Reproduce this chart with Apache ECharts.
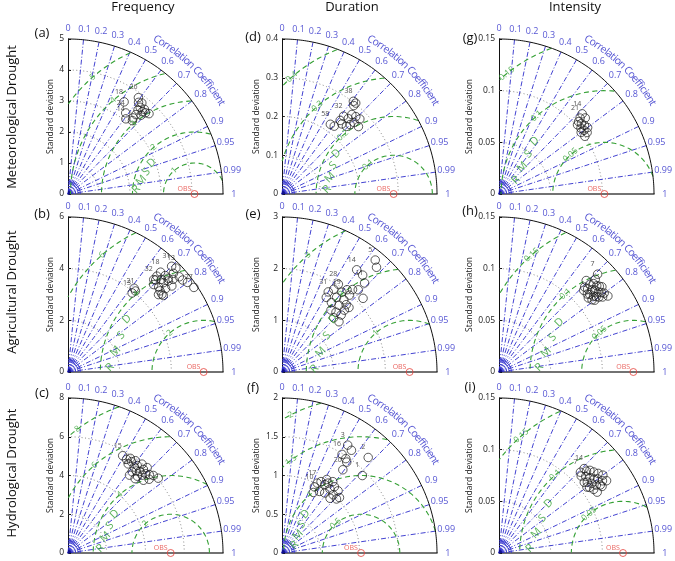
<!DOCTYPE html>
<html><head><meta charset="utf-8">
<script src="https://cdn.jsdelivr.net/npm/echarts@6/dist/echarts.min.js"></script>
<style>html,body{margin:0;padding:0;background:#fff}#c{width:675px;height:561px}</style>
</head><body><div id="c"></div><script>
// ---------------- data ----------------
const colTitles = ['Frequency', 'Duration', 'Intensity'];
const rowTitles = ['Meteorological Drought', 'Agricultural Drought', 'Hydrological Drought'];
const panelTags = ['(a)', '(b)', '(c)', '(d)', '(e)', '(f)', '(g)', '(h)', '(i)'];
const corrTicks = [0, 0.1, 0.2, 0.3, 0.4, 0.5, 0.6, 0.7, 0.8, 0.9, 0.95, 0.99, 1];
const corrRays = [0.1, 0.2, 0.3, 0.4, 0.5, 0.6, 0.7, 0.8, 0.9, 0.95, 0.99];
const axisMax = [5, 6, 8, 0.4, 3, 2, 0.15, 0.15, 0.15];
const axisStep = [1, 2, 2, 0.1, 1, 0.5, 0.05, 0.05, 0.05];
const obsStd = [4.08, 5.25, 5.3, 0.288, 2.47, 1.02, 0.102, 0.13, 0.12];
const rmsdLevels = [[1,2,3,4,5],[2,4,6],[2,4,6,8],[0.1,0.2,0.3,0.4],[1,2,3],[0.5,1,1.5,2],[0.05,0.1,0.15],[0.05,0.1,0.15],[0.05,0.1,0.15]];

const stdA = [3.48,3.06,3.21,3.23,3.85,3.73,3.64,3.53,3.58,3.68,3.68,3.37,3.47,3.62,3.15,3.78];
const corrA = [0.52,0.61,0.58,0.65,0.59,0.61,0.64,0.64,0.67,0.67,0.71,0.65,0.68,0.69,0.66,0.63];
const labA = ['18','14','24','','26','','','','','','','','','','',''];

const stdB = [3.94,4.08,4.13,4.74,4.92,4.81,5.09,5.06,4.75,4.72,4.97,5.24,5.22,5.06,5.30,5.31,5.42,5.73,5.80,5.67,5.69,5.78,5.87,4.88,5.27,5.59,4.73,4.61];
const corrB = [0.63,0.64,0.62,0.70,0.69,0.73,0.71,0.73,0.75,0.77,0.76,0.74,0.77,0.68,0.71,0.73,0.75,0.70,0.72,0.76,0.78,0.80,0.83,0.68,0.68,0.73,0.78,0.76];
const labB = ['13','21','','','','','','','','','','','','','','','','31','13','','','','27','32','18','','',''];

const stdC = [5.76,5.70,5.85,5.55,5.74,5.90,5.60,5.76,5.97,5.34,5.51,5.60,5.81,6.01,5.34,5.55,5.73,5.83,5.95,6.05,5.41,5.66,5.12,5.17];
const corrC = [0.49,0.53,0.55,0.56,0.57,0.59,0.61,0.62,0.64,0.62,0.64,0.66,0.67,0.68,0.67,0.69,0.70,0.72,0.74,0.77,0.72,0.74,0.62,0.67];
const labC = ['15','','','','','','','','','21','','','','','','','','','','','','','',''];

const stdD = [0.302,0.294,0.302,0.242,0.256,0.259,0.273,0.276,0.279,0.251,0.262,0.263,0.241,0.238,0.219,0.221];
const corrD = [0.61,0.63,0.63,0.62,0.62,0.66,0.66,0.69,0.72,0.70,0.71,0.75,0.69,0.65,0.57,0.61];
const labD = ['38','','','','32','','','','','','','','','','58',''];

const stdE = [2.82,2.73,2.45,2.44,2.35,2.10,2.17,2.12,1.79,1.89,2.02,1.93,2.03,1.98,1.79,1.84,1.65,1.70,1.80,1.53,1.56,1.59,1.45,1.47,1.70,1.68,1.80];
const corrE = [0.64,0.67,0.59,0.64,0.68,0.65,0.68,0.74,0.50,0.53,0.54,0.60,0.62,0.66,0.59,0.65,0.58,0.65,0.69,0.62,0.67,0.72,0.69,0.75,0.71,0.51,0.72];
const labE = ['5','','14','','11','','','','31','','28','19','','','','','','','','','','','','','','',''];

const stdF = [1.63,1.60,1.49,1.47,1.44,1.66,1.44,1.33,0.95,1.01,1.05,1.04,1.08,1.13,0.93,0.95,1.03,1.09,1.08,1.00,0.99,1.03,0.94,1.11,0.88];
const corrF = [0.52,0.56,0.52,0.56,0.58,0.67,0.72,0.59,0.44,0.45,0.48,0.53,0.55,0.58,0.52,0.58,0.60,0.62,0.67,0.66,0.71,0.72,0.66,0.52,0.46];
const labF = ['3','','16','','','2','1','20','10','17','','','','','','','','','','','','','','',''];

const stdG = [0.1118,0.1075,0.1113,0.1041,0.1050,0.1060,0.1017,0.1028,0.1040,0.0994,0.1001,0.1013,0.1072];
const corrG = [0.72,0.73,0.75,0.74,0.76,0.78,0.78,0.80,0.82,0.80,0.83,0.75,0.80];
const labG = ['14','21','','','','','','','','','','',''];

const stdH = [0.1344,0.1294,0.1223,0.1223,0.1252,0.1261,0.1277,0.1293,0.1167,0.1175,0.1204,0.1220,0.1237,0.1254,0.1272,0.1285,0.1140,0.1156,0.1173,0.1190,0.1208,0.1140,0.1158,0.1123,0.1238,0.1139];
const corrH = [0.71,0.72,0.69,0.72,0.73,0.75,0.76,0.77,0.71,0.73,0.75,0.76,0.78,0.79,0.80,0.82,0.75,0.76,0.78,0.79,0.80,0.79,0.80,0.77,0.81,0.72];
const labH = ['7','','','','','','','','','','','','','','','','','','','','','','','','',''];

const stdI = [0.1160,0.1110,0.1160,0.1189,0.1206,0.1231,0.1256,0.1090,0.1119,0.1143,0.1168,0.1194,0.1221,0.1254,0.1072,0.1096,0.1122,0.1149,0.1181,0.1082,0.1104,0.1118,0.1064,0.1187];
const corrI = [0.71,0.71,0.73,0.74,0.76,0.78,0.80,0.73,0.75,0.77,0.79,0.80,0.82,0.83,0.77,0.78,0.80,0.82,0.83,0.81,0.83,0.85,0.80,0.84];
const labI = ['14','7','','','','','','','','','','','','','','','','','','','','','','','',''];

const panelStd = [stdA, stdB, stdC, stdD, stdE, stdF, stdG, stdH, stdI];
const panelCorr = [corrA, corrB, corrC, corrD, corrE, corrF, corrG, corrH, corrI];
const panelLab = [labA, labB, labC, labD, labE, labF, labG, labH, labI];

// ---------------- layout / style ----------------
const R = 155;
const gridLeft = [68, 282, 499];
const gridTop = [39, 217, 398];
const nameGaps = [12, 21, 24];
const tagX = [42, 253, 470];
const tagY = [[33, 214, 393], [37, 214, 388], [38, 211, 387]];
const rmsdTextPos = [[[0.44,0.03],[0.54,0.20]],[[0.27,0.03],[0.38,0.34]],[[0.21,0.03],[0.30,0.25]],
                     [[0.29,0.03],[0.35,0.26]],[[0.21,0.02],[0.33,0.34]],[[0.08,0.05],[0.15,0.25]],
                     [[0.11,0.09],[0.23,0.34]],[[0.26,0.03],[0.39,0.32]],[[0.20,0.03],[0.32,0.32]]];
const BLUE = '#2e2ecc', BLUET = '#2a2ac8', GREEN = '#35a035', RED = '#e5403a', GRAY = '#6f6f6f';
const FF = 'Open Sans';
const fmt = v => String(parseFloat(v.toFixed(4)));
const ctx = document.createElement('canvas').getContext('2d');
const measure = (t, f) => { ctx.font = f; return ctx.measureText(t).width; };
const D2R = Math.PI / 180;

const grids = [], xAxes = [], yAxes = [], series = [], graphics = [];

function line(k, pts, color, width, type, z, extra) {
  series.push(Object.assign({type: 'line', xAxisIndex: k, yAxisIndex: k, data: pts, symbol: 'none', silent: true,
    clip: false, animation: false, z: z, lineStyle: {color: color, width: width, type: type}}, extra || {}));
}
function texts(k, items, z) {
  series.push({type: 'scatter', xAxisIndex: k, yAxisIndex: k, symbol: 'circle', symbolSize: 1, silent: true,
    clip: false, animation: false, z: z || 12, itemStyle: {color: 'rgba(0,0,0,0)'},
    data: items.map(it => ({value: [it.x, it.y], label: {show: true, position: 'inside', formatter: it.t,
      color: it.c, fontSize: it.fs, fontFamily: it.ff || FF, rotate: it.r || 0, align: 'center', verticalAlign: 'middle'}}))});
}
function arcPts(cx, r, a0, a1, n) {
  const p = [];
  for (let i = 0; i <= n; i++) { const a = (a0 + (a1 - a0) * i / n) * D2R; p.push([cx + r * Math.cos(a), r * Math.sin(a)]); }
  return p;
}

for (let k = 0; k < 9; k++) {
  const col = Math.floor(k / 3), row = k % 3;
  const M = axisMax[k], S = axisStep[k], obs = obsStd[k];
  grids.push({left: gridLeft[col], top: gridTop[row], width: R, height: R});
  xAxes.push({gridIndex: k, type: 'value', min: 0, max: M, interval: S,
    axisLine: {show: true, onZero: false, lineStyle: {color: '#444', width: 1.6}},
    axisTick: {show: false}, axisLabel: {show: false}, splitLine: {show: false}});
  yAxes.push({gridIndex: k, type: 'value', min: 0, max: M, interval: S,
    name: 'Standard deviation', nameLocation: 'middle', nameGap: nameGaps[col],
    nameTextStyle: {fontSize: 8.5, color: '#222', fontFamily: FF},
    axisLine: {show: true, lineStyle: {color: '#111', width: 1}},
    axisTick: {show: true, inside: true, length: 3, lineStyle: {color: '#111'}},
    axisLabel: {fontSize: 8.5, color: '#222', margin: 4, fontFamily: FF, formatter: v => fmt(v)},
    splitLine: {show: false}});

  // std dotted arcs
  for (let s = S; s < M - 1e-9; s += S) line(k, arcPts(0, s, 0, 90, 60), GRAY, 0.8, [1, 2.5], 2);
  // correlation rays
  corrRays.forEach(c => { const t = Math.acos(c); line(k, [[0, 0], [M * Math.cos(t), M * Math.sin(t)]], BLUE, 0.9, [5, 2, 1, 2], 3); });
  // blue arcs near origin
  [0.02, 0.035, 0.05, 0.065, 0.08].forEach(f => line(k, arcPts(0, M * f, 0, 90, 20), BLUE, 0.8, 'solid', 3));
  line(k, arcPts(0, M * 0.02, 0, 90, 12), '#10108a', 0.5, 'solid', 4, {areaStyle: {color: '#10108a', opacity: 1}});
  // RMSD arcs (green dashed)
  rmsdLevels[k].forEach(r => {
    let seg = [];
    for (let i = 0; i <= 360; i++) {
      const a = i * 0.5 * D2R, x = obs + r * Math.cos(a), y = r * Math.sin(a);
      if (x >= 0 && Math.hypot(x, y) <= M) seg.push([x, y]);
      else { if (seg.length > 1) line(k, seg, GREEN, 1.1, [5, 3.5], 4); seg = []; }
    }
    if (seg.length > 1) line(k, seg, GREEN, 1.1, [5, 3.5], 4);
  });
  // outer arc
  line(k, arcPts(0, M, 0, 90, 120), '#111', 1, 'solid', 5);

  const tx = [];
  // correlation tick labels
  corrTicks.forEach(c => { const t = Math.acos(c); const rr = M * 1.07;
    tx.push({x: rr * Math.cos(t), y: rr * Math.sin(t), t: fmt(c), c: BLUET, fs: 9}); });
  // "Correlation Coefficient" along the arc
  const cc = 'Correlation Coefficient', cf = '10.5px ' + FF;
  const ws = cc.split('').map(ch => measure(ch, cf)); const W = ws.reduce((a, b) => a + b, 0);
  let cum = 0;
  cc.split('').forEach((ch, i) => {
    const ang = 61 - (cum + ws[i] / 2) / W * 31; cum += ws[i];
    if (ch === ' ') return;
    const rr = M * 1.15;
    tx.push({x: rr * Math.cos(ang * D2R), y: rr * Math.sin(ang * D2R), t: ch, c: BLUET, fs: 10.5, r: ang - 90});
  });
  // RMSD level labels
  rmsdLevels[k].forEach(r => {
    let phi = 131, x, y;
    for (; phi >= 50; phi -= 1) {
      x = obs + r * Math.cos(phi * D2R); y = r * Math.sin(phi * D2R);
      if (x > 0.05 * M && Math.hypot(x, y) < 0.95 * M) break;
    }
    tx.push({x: x, y: y, t: fmt(r), c: GREEN, fs: 8.5, r: phi - 90});
  });
  // "RMSD" letters
  const [p0, p1] = rmsdTextPos[k];
  'RMSD'.split('').forEach((ch, i) => {
    const f = i / 3;
    tx.push({x: M * (p0[0] + (p1[0] - p0[0]) * f), y: M * (p0[1] + (p1[1] - p0[1]) * f), t: ch, c: GREEN, fs: 11, r: 45});
  });
  // OBS text
  tx.push({x: obs - M * 0.065, y: M * 0.035, t: 'OBS', c: RED, fs: 7});
  texts(k, tx, 12);

  // model points
  const st = panelStd[k], cr = panelCorr[k], lb = panelLab[k];
  series.push({type: 'scatter', xAxisIndex: k, yAxisIndex: k, symbol: 'circle', symbolSize: 8.5, clip: false,
    silent: true, animation: false, z: 10,
    itemStyle: {color: 'rgba(0,0,0,0)', borderColor: '#1a1a1a', borderWidth: 0.9},
    data: st.map((s, i) => ({value: [s * cr[i], s * Math.sqrt(1 - cr[i] * cr[i])],
      label: {show: !!lb[i], formatter: lb[i] || '', position: 'top', offset: [-5, 3], fontSize: 7, color: '#222', fontFamily: FF}}))});
  // OBS point
  series.push({type: 'scatter', xAxisIndex: k, yAxisIndex: k, symbol: 'circle', symbolSize: 7, clip: false,
    silent: true, animation: false, z: 11,
    itemStyle: {color: 'rgba(0,0,0,0)', borderColor: RED, borderWidth: 1}, data: [[obs, 0]]});

  graphics.push({type: 'text', x: tagX[col], y: tagY[col][row], style: {text: panelTags[k], fill: '#111',
    font: '13px ' + FF, textAlign: 'center', textVerticalAlign: 'middle'}});
}

const titleX = [143, 352, 575];
colTitles.forEach((t, i) => graphics.push({type: 'text', x: titleX[i], y: 7, style: {text: t, fill: '#111',
  font: '13px ' + FF, textAlign: 'center', textVerticalAlign: 'middle'}}));
const rowY = [117, 292, 473];
rowTitles.forEach((t, i) => graphics.push({type: 'text', x: 12, y: rowY[i], rotation: Math.PI / 2,
  style: {text: t, fill: '#111', font: '13px ' + FF, textAlign: 'center', textVerticalAlign: 'middle'}}));

const chart = echarts.init(document.getElementById('c'));
chart.setOption({animation: false, backgroundColor: '#fff', grid: grids, xAxis: xAxes, yAxis: yAxes, series: series, graphic: graphics});
</script></body></html>
